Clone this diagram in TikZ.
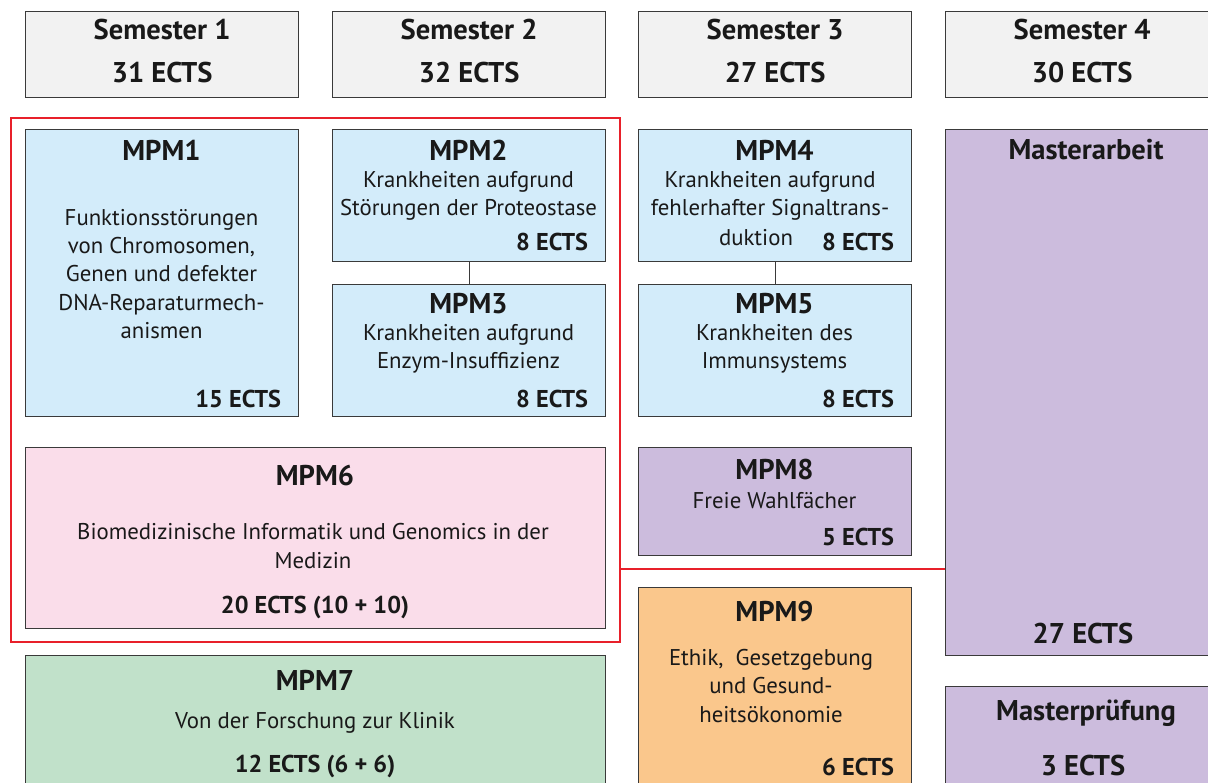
\documentclass[tikz,border=0pt]{standalone}
\usepackage{fontspec}
\setmainfont{PT Sans}
\usetikzlibrary{positioning}
\newlength{\pxu}\setlength{\pxu}{0.025cm}
\definecolor{semgray}{HTML}{F2F2F2}
\definecolor{modblue}{HTML}{D3ECFA}
\definecolor{modpink}{HTML}{FADDEA}
\definecolor{modlila}{HTML}{CCBCDD}
\definecolor{modgreen}{HTML}{C1E1CA}
\definecolor{modorange}{HTML}{FAC78C}
\definecolor{boxline}{HTML}{3A3A3A}
\definecolor{frame}{HTML}{E8202A}
\tikzset{
  box/.style={draw=boxline, line width=0.9pt, anchor=north west, inner sep=0pt, minimum width=273\pxu},
  head/.style={font=\fontsize{20.3}{22}\selectfont\bfseries},
  body/.style={font=\fontsize{16.2}{20}\selectfont, align=center},
  ects/.style={font=\fontsize{17.3}{20}\selectfont\bfseries},
  conn/.style={draw=boxline, line width=0.9pt},
}

\begin{document}
\begin{tikzpicture}[x=0.025cm, y=-0.025cm, text=black!90]
\clip (0,0) rectangle (1208,782);
% semester heads
\foreach \n/\x/\e in {1/25/31, 2/332/32, 3/638/27, 4/945/30} {
  \node[box, fill=semgray, minimum height=86\pxu] (sem\n) at (\x,11) {};
  \node[head] (semt\n) at ([yshift=-19\pxu]sem\n.north) {Semester \n};
  \node[head] (seme\n) at ([yshift=-62\pxu]sem\n.north) {\e\ ECTS};
}
% modules
\node[box, fill=modblue, minimum height=287\pxu] (mpm1) at (25,129) {};
\node[box, fill=modblue, minimum height=132\pxu] (mpm2) at (332,129) {};
\node[box, fill=modblue, minimum height=132\pxu] (mpm3) at (332,284) {};
\node[box, fill=modblue, minimum height=132\pxu] (mpm4) at (638,129) {};
\node[box, fill=modblue, minimum height=132\pxu] (mpm5) at (638,284) {};
\node[box, fill=modpink, minimum width=580\pxu, minimum height=181\pxu] (mpm6) at (25,447) {};
\node[box, fill=modgreen, minimum width=580\pxu, minimum height=140\pxu] (mpm7) at (25,655) {};
\node[box, fill=modlila, minimum height=108\pxu] (mpm8) at (638,447) {};
\node[box, fill=modorange, minimum height=210\pxu] (mpm9) at (638,587) {};
\node[box, fill=modlila, minimum height=526\pxu] (ma) at (945,129) {};
\node[box, fill=modlila, minimum height=110\pxu] (mp) at (945,686) {};

\draw[conn] (mpm2.south) -- (mpm3.north);
\draw[conn] (mpm4.south) -- (mpm5.north);

% texts
\node[head] (mpm1t) at (161.5,150) {MPM1};
\node[body] (mpm1b) at (161.5,274) {Funktionsstörungen\\von Chromosomen,\\Genen und defekter\\DNA-Reparaturmech-\\anismen};
\node[ects, anchor=east] (mpm1e) at (286,399) {15 ECTS};

\node[head] (mpm2t) at (468.5,150) {MPM2};
\node[body] (mpm2b) at (468.5,196) {Krankheiten aufgrund\\Störungen der Proteostase};
\node[ects, anchor=east] (mpm2e) at (593,242) {8 ECTS};

\node[head] (mpm3t) at (468.5,304) {MPM3};
\node[body] (mpm3b) at (468.5,349) {Krankheiten aufgrund\\Enzym-Insuffizienz};
\node[ects, anchor=east] (mpm3e) at (593,399) {8 ECTS};

\node[head] (mpm4t) at (774.5,150) {MPM4};
\node[body] (mpm4b) at (770,196) {Krankheiten aufgrund\\fehlerhafter Signaltrans-};
\node[body] (mpm4c) at (756,238) {duktion};
\node[ects, anchor=east] (mpm4e) at (899,242) {8 ECTS};

\node[head] (mpm5t) at (774.5,304) {MPM5};
\node[body] (mpm5b) at (774.5,349) {Krankheiten des\\Immunsystems};
\node[ects, anchor=east] (mpm5e) at (899,399) {8 ECTS};

\node[head] (mpm6t) at (315,476) {MPM6};
\node[body] (mpm6b) at (313,546) {Biomedizinische Informatik und Genomics in der\\Medizin};
\node[ects] (mpm6e) at (315,607) {20 ECTS (10 + 10)};

\node[head] (mpm7t) at (315,680) {MPM7};
\node[body] (mpm7b) at (315,723) {Von der Forschung zur Klinik};
\node[ects] (mpm7e) at (315,766) {12 ECTS (6 + 6)};

\node[head] (mpm8t) at (774.5,470) {MPM8};
\node[body] (mpm8b) at (774.5,501) {Freie Wahlfächer};
\node[ects, anchor=east] (mpm8e) at (899,537) {5 ECTS};

\node[head] (mpm9t) at (774.5,612) {MPM9};
\node[body] (mpm9b) at (771,686) {Ethik,\ \ Gesetzgebung\\und Gesund-\\heitsökonomie};
\node[ects, anchor=east] (mpm9e) at (899,767) {6 ECTS};

\node[head] (mat) at (1086,150) {Masterarbeit};
\node[head] (mae) at (1083,633) {27 ECTS};
\node[head] (mpt) at (1086,713) {Masterprüfung};
\node[head] (mpe) at (1083,765) {3 ECTS};

% red frame
\draw[frame, line width=1.4pt] (11,118) rectangle (620,642);
\coordinate (rj) at (620,569);
\draw[frame, line width=1.4pt] (rj) -- (rj -| ma.west);
\end{tikzpicture}
\end{document}
